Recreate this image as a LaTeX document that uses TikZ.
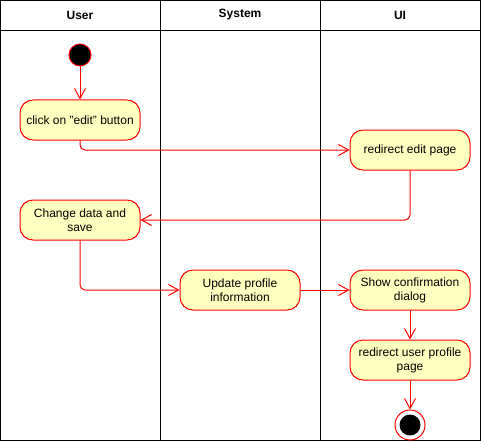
\documentclass[tikz,border=0pt]{standalone}
\usepackage{fontspec}
\setmainfont{Liberation Sans}
\usetikzlibrary{arrows.meta}
\definecolor{actfill}{HTML}{FFFFC0}

\begin{document}
\begin{tikzpicture}[x=1pt, y=-1pt, line width=1pt,
	every node/.style={font=\fontsize{12}{14}\selectfont},
	action/.style={draw=red, fill=actfill, rounded corners=13pt, minimum width=120pt, minimum height=40pt, text width=112pt, align=flush center, inner sep=0pt},
	startstate/.style={circle, draw=red, fill=black, minimum size=22pt, inner sep=0pt},
	endstate/.style={circle, draw=red, fill=white, minimum size=30pt, inner sep=0pt,
		path picture={\fill[black] (path picture bounding box.center) circle (10.5pt);}},
	flow/.style={draw=red, -{Straight Barb[length=10pt,width=11pt]}, rounded corners=5pt},
	header/.style={font=\fontsize{12}{14}\selectfont\bfseries}]
	\useasboundingbox (0,0) rectangle (481,441);
	% ==================== 泳道 ====================
	\draw (0.5,0.5) rectangle (480.5,440.5);
	\draw (0.5,30.5) -- (480.5,30.5);
	\draw (160.5,0.5) -- (160.5,440.5);
	\draw (320.5,0.5) -- (320.5,440.5);
	
	\node[header] (hUser) at (80,15) {User};
	\node[header] (hSystem) at (240,15) {System};
	\node[header] (hUI) at (400,15) {UI};
	
	% ==================== 活动 ====================
	% --- User ---
	\node[startstate] (start) at (80,55) {};
	\node[action] (click) at (80,120) {click on "edit" button};
	\node[action] (change) at (80,220) {Change data and save};
	
	% --- System ---
	\node[action] (update) at (240,290) {Update profile information};
	
	% --- UI ---
	\node[action] (redirEdit) at (410,150) {redirect edit page};
	\node[action] (confirm) at (410,290) {Show confirmation dialog};
	\node[action] (redirProfile) at (410,360) {redirect user profile page};
	\node[endstate] (end) at (410,425) {};
	
	% ==================== 流程 ====================
	\draw[flow] (start) -- (click);
	\draw[flow] (click.south) |- (redirEdit.west);
	\draw[flow] (redirEdit.south) |- (change.east);
	\draw[flow] (change.south) |- (update.west);
	\draw[flow] (update) -- (confirm);
	\draw[flow] (confirm) -- (redirProfile);
	\draw[flow] (redirProfile) -- (end);
\end{tikzpicture}
\end{document}
